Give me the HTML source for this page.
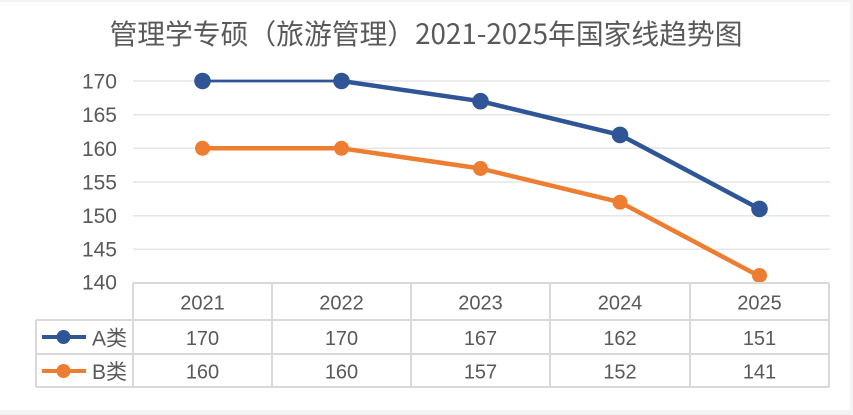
<!DOCTYPE html>
<html>
<head>
<meta charset="utf-8">
<style>
  html,body{margin:0;padding:0;background:#fff;}
  svg{display:block;}
  text{font-family:"Liberation Sans","Noto Sans CJK SC",sans-serif;fill:#595959;}
</style>
</head>
<body>
<svg width="853" height="415" viewBox="0 0 853 415" xmlns="http://www.w3.org/2000/svg">
  <rect x="0" y="0" width="853" height="415" fill="#f4f4f4"/>
  <rect x="0" y="2" width="850" height="408" fill="#ffffff"/>

  <!-- Title -->
  <text x="426" y="44" font-size="28" text-anchor="middle" textLength="633" lengthAdjust="spacingAndGlyphs" style="font-family:'Noto Sans CJK SC','Liberation Sans',sans-serif;">管理学专硕（旅游管理）2021-2025年国家线趋势图</text>

  <!-- Gridlines -->
  <g stroke="#e6e6e6" stroke-width="1.5">
    <line x1="133" y1="81" x2="830" y2="81"/>
    <line x1="133" y1="114.7" x2="830" y2="114.7"/>
    <line x1="133" y1="148.3" x2="830" y2="148.3"/>
    <line x1="133" y1="182" x2="830" y2="182"/>
    <line x1="133" y1="215.7" x2="830" y2="215.7"/>
    <line x1="133" y1="249.3" x2="830" y2="249.3"/>
  </g>

  <!-- Y tick labels -->
  <g font-size="21" text-anchor="end">
    <text x="117" y="88.5">170</text>
    <text x="117" y="122">165</text>
    <text x="117" y="155.8">160</text>
    <text x="117" y="189.5">155</text>
    <text x="117" y="223">150</text>
    <text x="117" y="256.5">145</text>
    <text x="117" y="289.5">140</text>
  </g>

  <!-- Series B (orange) -->
  <polyline points="202.5,148.3 341.5,148.3 480.5,168.5 620,202.2 759.5,276.3" fill="none" stroke="#ED7D31" stroke-width="4.5" stroke-linejoin="round"/>
  <g fill="#ED7D31">
    <circle cx="202.5" cy="148.3" r="7.5"/>
    <circle cx="341.5" cy="148.3" r="7.5"/>
    <circle cx="480.5" cy="168.5" r="7.5"/>
    <circle cx="620" cy="202.2" r="7.5"/>
    <circle cx="759.5" cy="275.5" r="7.5"/>
  </g>

  <!-- Series A (blue) -->
  <line x1="202.5" y1="81" x2="341.5" y2="81" stroke="#2F5597" stroke-width="2.8"/>
  <polyline points="341.5,81 480.5,101.2 620,134.9 759.5,208.9" fill="none" stroke="#2F5597" stroke-width="4.5" stroke-linejoin="round"/>
  <g fill="#2F5597">
    <circle cx="202.5" cy="81" r="8.3"/>
    <circle cx="341.5" cy="81" r="8.3"/>
    <circle cx="480.5" cy="101.2" r="8.3"/>
    <circle cx="620" cy="134.9" r="8.3"/>
    <circle cx="759.5" cy="208.9" r="8.3"/>
  </g>

  <!-- Data table -->
  <g stroke="#d9d9d9" stroke-width="2" fill="none">
    <line x1="133" y1="283" x2="829" y2="283"/>
    <line x1="36" y1="320" x2="829" y2="320"/>
    <line x1="36" y1="354" x2="829" y2="354"/>
    <line x1="36" y1="387" x2="829" y2="387"/>
    <line x1="36" y1="320" x2="36" y2="387"/>
    <line x1="133" y1="283" x2="133" y2="387"/>
    <line x1="272" y1="283" x2="272" y2="387"/>
    <line x1="411" y1="283" x2="411" y2="387"/>
    <line x1="550" y1="283" x2="550" y2="387"/>
    <line x1="690" y1="283" x2="690" y2="387"/>
    <line x1="829" y1="283" x2="829" y2="387"/>
  </g>

  <g font-size="20" text-anchor="middle">
    <text x="202.5" y="309.5">2021</text>
    <text x="341.5" y="309.5">2022</text>
    <text x="480.5" y="309.5">2023</text>
    <text x="620" y="309.5">2024</text>
    <text x="759.5" y="309.5">2025</text>

    <text x="202.5" y="345">170</text>
    <text x="341.5" y="345">170</text>
    <text x="480.5" y="345">167</text>
    <text x="620" y="345">162</text>
    <text x="759.5" y="345">151</text>

    <text x="202.5" y="378.5">160</text>
    <text x="341.5" y="378.5">160</text>
    <text x="480.5" y="378.5">157</text>
    <text x="620" y="378.5">152</text>
    <text x="759.5" y="378.5">141</text>
  </g>

  <!-- Legend keys -->
  <line x1="42" y1="337" x2="86" y2="337" stroke="#2F5597" stroke-width="4"/>
  <circle cx="63.5" cy="337" r="7" fill="#2F5597"/>
  <text x="92" y="345.5" font-size="21">A类</text>

  <line x1="42" y1="371" x2="86" y2="371" stroke="#ED7D31" stroke-width="4"/>
  <circle cx="63.5" cy="371" r="7" fill="#ED7D31"/>
  <text x="92" y="379" font-size="21">B类</text>
</svg>
</body>
</html>
